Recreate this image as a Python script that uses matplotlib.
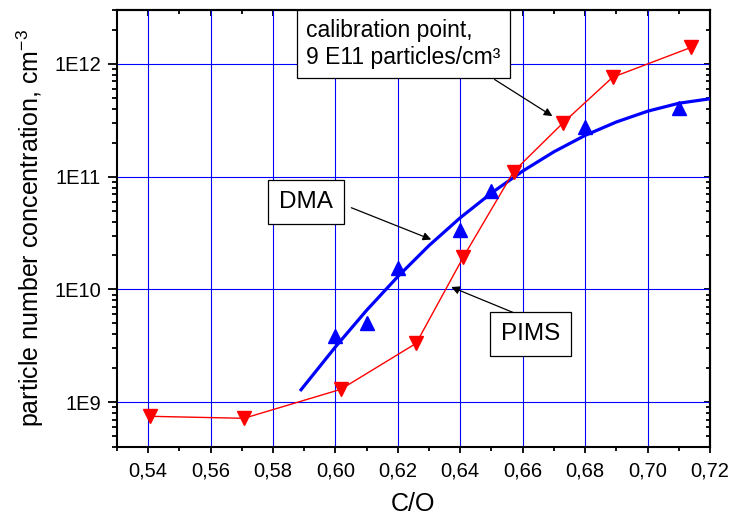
import numpy as np
import matplotlib.pyplot as plt
from matplotlib.ticker import FuncFormatter, MultipleLocator, LogLocator

plt.rcParams['font.family'] = ['Liberation Sans', 'DejaVu Sans']
plt.rcParams['mathtext.fontset'] = 'custom'
plt.rcParams['mathtext.rm'] = 'Liberation Sans'

# PIMS measurements (red, down triangles)
pims_co = [0.5407, 0.5707, 0.6017, 0.6259, 0.6410, 0.6571, 0.6729, 0.6888, 0.7140]
pims_conc = [7.5e8, 7.2e8, 1.30e9, 3.33e9, 1.94e10, 1.11e11, 2.99e11, 7.6e11, 1.40e12]

# DMA measurements (blue, up triangles)
dma_co = [0.60, 0.61, 0.62, 0.64, 0.65, 0.68, 0.71]
dma_conc = [3.88e9, 5.06e9, 1.55e10, 3.35e10, 7.4e10, 2.78e11, 4.05e11]

# DMA fit curve
fit_co = [0.589, 0.60, 0.61, 0.62, 0.63, 0.64, 0.65, 0.66, 0.67, 0.68, 0.69, 0.70, 0.71, 0.72]
fit_conc = [1.29e9, 3.09e9, 6.53e9, 1.30e10, 2.45e10, 4.32e10, 7.16e10, 1.12e11, 1.66e11,
            2.32e11, 3.05e11, 3.80e11, 4.47e11, 4.90e11]

fig = plt.figure(figsize=(7.35, 5.26), dpi=100)
ax = fig.add_axes([0.159, 0.150, 0.807, 0.831])

ax.plot(pims_co, pims_conc, color='red', lw=1.0, marker='v', ms=10, mec='red', mfc='red', zorder=4)
ax.plot(fit_co, fit_conc, color='blue', lw=2.3, zorder=3)
ax.plot(dma_co, dma_conc, ls='none', marker='^', ms=10, color='blue', zorder=4)

ax.set_yscale('log')
ax.set_xlim(0.53, 0.72)
ax.set_ylim(4e8, 3e12)

ax.xaxis.set_major_locator(MultipleLocator(0.02))
ax.xaxis.set_minor_locator(MultipleLocator(0.01))
ax.yaxis.set_major_locator(LogLocator(base=10, numticks=10))
ax.yaxis.set_minor_locator(LogLocator(base=10, subs=np.arange(2, 10), numticks=10))
ax.xaxis.set_major_formatter(FuncFormatter(lambda v, p: f'{v:.2f}'.replace('.', ',')))
ax.yaxis.set_major_formatter(FuncFormatter(lambda v, p: f'1E{int(round(np.log10(v)))}'))
ax.yaxis.set_minor_formatter(FuncFormatter(lambda v, p: ''))

ax.grid(True, which='major', color='blue', lw=0.8)
ax.set_axisbelow(True)

ax.tick_params(axis='x', which='major', direction='out', length=4.5, width=1.3, labelsize=14.5, pad=6)
ax.tick_params(axis='x', which='minor', direction='out', length=3, width=1.3)
ax.tick_params(axis='y', which='major', direction='out', length=6.5, width=1.3, labelsize=14.5, pad=5)
ax.tick_params(axis='y', which='minor', direction='out', length=3.5, width=1.3)
for s in ax.spines.values():
    s.set_linewidth(1.5)

# mirrored ticks pointing inward on top and right
top = ax.secondary_xaxis('top')
top.xaxis.set_major_locator(MultipleLocator(0.02))
top.xaxis.set_minor_locator(MultipleLocator(0.01))
top.tick_params(which='major', direction='in', length=4, width=1.3, labeltop=False)
top.tick_params(which='minor', direction='in', length=3, width=1.3)
top.spines['top'].set_linewidth(1.5)
right = ax.secondary_yaxis('right')
right.yaxis.set_major_locator(LogLocator(base=10, numticks=10))
right.yaxis.set_minor_locator(LogLocator(base=10, subs=np.arange(2, 10), numticks=10))
right.tick_params(which='major', direction='in', length=4, width=1.3, labelright=False)
right.tick_params(which='minor', direction='in', length=3, width=1.3, labelright=False)
right.spines['right'].set_linewidth(1.5)

ax.set_xlabel('C/O', fontsize=18, labelpad=8)
ax.set_ylabel('particle number concentration, cm$^{\\mathregular{-3}}$', fontsize=18, labelpad=6)

box = dict(boxstyle='square,pad=0.45', fc='white', ec='black', lw=0.9)
arrow = dict(arrowstyle='-|>', color='black', lw=0.9, mutation_scale=12, shrinkA=0, shrinkB=0)

ax.text(0.5905, 5.98e10, 'DMA', fontsize=17.5, ha='center', va='center', bbox=box, zorder=6)
ax.annotate('', xy=(0.6307, 2.77e10), xytext=(0.6051, 5.3e10), arrowprops=arrow, zorder=6)

ax.text(0.6624, 4.02e9, 'PIMS', fontsize=17.5, ha='center', va='center', bbox=box, zorder=6)
ax.annotate('', xy=(0.6371, 1.05e10), xytext=(0.6569, 6.25e9), arrowprops=arrow, zorder=6)

ax.text(0.5906, 1.50e12, 'calibration point,\n9 E11 particles/cm³', fontsize=16.5,
        ha='left', va='center', linespacing=1.25, bbox=dict(boxstyle='square,pad=0.4', fc='white', ec='black', lw=0.9), zorder=6)
ax.annotate('', xy=(0.6695, 3.44e11), xytext=(0.6510, 7.26e11), arrowprops=arrow, zorder=6)

plt.savefig('out.png', dpi=100)
